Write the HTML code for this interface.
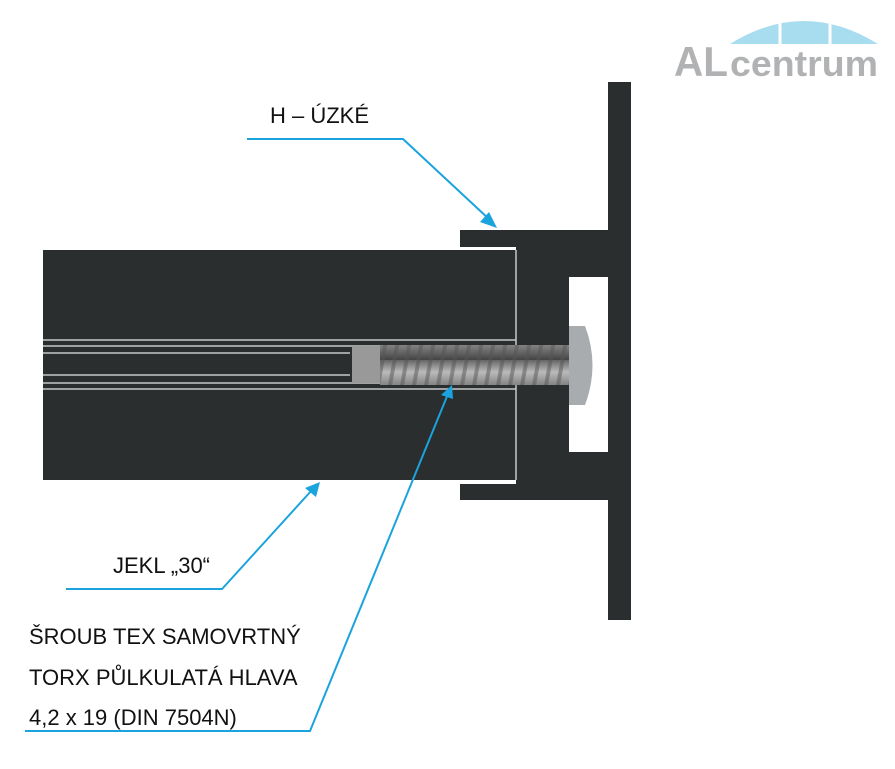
<!DOCTYPE html>
<html><head><meta charset="utf-8"><style>
body{margin:0;background:#fff;width:895px;height:769px;overflow:hidden;position:relative;font-family:"Liberation Sans",sans-serif}
.t{position:absolute;font-size:22px;color:#111;white-space:nowrap;line-height:1}
</style></head><body>
<svg width="895" height="769" style="position:absolute;left:0;top:0">
<defs>
<linearGradient id="sc" x1="0" y1="0" x2="0" y2="1">
<stop offset="0" stop-color="#666"/><stop offset=".3" stop-color="#bbb"/><stop offset=".6" stop-color="#888"/><stop offset="1" stop-color="#444"/></linearGradient>
<pattern id="th" width="12" height="40" patternUnits="userSpaceOnUse" patternTransform="skewX(-10)">
<rect width="12" height="40" fill="url(#sc)"/><rect x="0" width="4" height="40" fill="#555" opacity=".5"/></pattern>
</defs>
<rect x="608" y="82" width="23" height="538" fill="#2a2e2e"/>
<rect x="460" y="230" width="148" height="17" fill="#2a2e2e"/>
<rect x="460" y="484" width="148" height="16" fill="#2a2e2e"/>
<rect x="516" y="230" width="53" height="270" fill="#2a2e2e"/>
<rect x="569" y="230" width="39" height="47" fill="#2a2e2e"/>
<rect x="569" y="452" width="39" height="48" fill="#2a2e2e"/>
<rect x="43" y="250" width="473" height="230" fill="#2a2e2e"/>
<line x1="516" y1="250" x2="516" y2="480" stroke="#c8c8c8" stroke-width="1.5"/>
<g stroke="#c4c8c8" stroke-width="1.6">
<line x1="43" y1="340" x2="516" y2="340"/><line x1="43" y1="346" x2="516" y2="346"/><line x1="43" y1="353" x2="350" y2="353"/>
<line x1="43" y1="375" x2="350" y2="375"/><line x1="43" y1="383" x2="516" y2="383"/><line x1="43" y1="389" x2="516" y2="389"/>
</g>
<rect x="352" y="346" width="28" height="37" fill="#999"/>
<rect x="380" y="345" width="190" height="40" fill="url(#th)"/>
<path d="M569 326 L585 326 Q600 365 585 405 L569 405 Z" fill="#a8acae"/>
<g stroke="#1aa3dd" stroke-width="2" fill="none">
<polyline points="247,139 403,139 490,220"/>
<polyline points="66,589 222,589 312,490"/>
<polyline points="25,731 310,731 448,394"/>
</g>
<g fill="#1aa3dd">
<polygon points="497,228 480,222 489,212"/>
<polygon points="320,482 316,497 305,488"/>
<polygon points="452,385 453,399 441,395"/>
</g>
<path d="M730 44 Q804 -2 878 44 Z" fill="#a8dcef"/>
<line x1="780" y1="10" x2="780" y2="44" stroke="#fff" stroke-width="3"/>
<line x1="830" y1="10" x2="830" y2="44" stroke="#fff" stroke-width="3"/>
<text x="674" y="76" font-family="Liberation Sans" font-weight="bold" font-size="42" fill="#b0b2b4" textLength="54" lengthAdjust="spacingAndGlyphs">AL</text>
<text x="730" y="76" font-family="Liberation Sans" font-weight="bold" font-size="36" fill="#b0b2b4" textLength="148" lengthAdjust="spacingAndGlyphs">centrum</text>
</svg>
<div class="t" style="left:270px;top:105px">H – ÚZKÉ</div>
<div class="t" style="left:113px;top:555px">JEKL „30“</div>
<div class="t" style="left:29px;top:626px">ŠROUB TEX SAMOVRTNÝ</div>
<div class="t" style="left:29px;top:667px">TORX PŮLKULATÁ HLAVA</div>
<div class="t" style="left:29px;top:707px">4,2 x 19 (DIN 7504N)</div>
</body></html>
